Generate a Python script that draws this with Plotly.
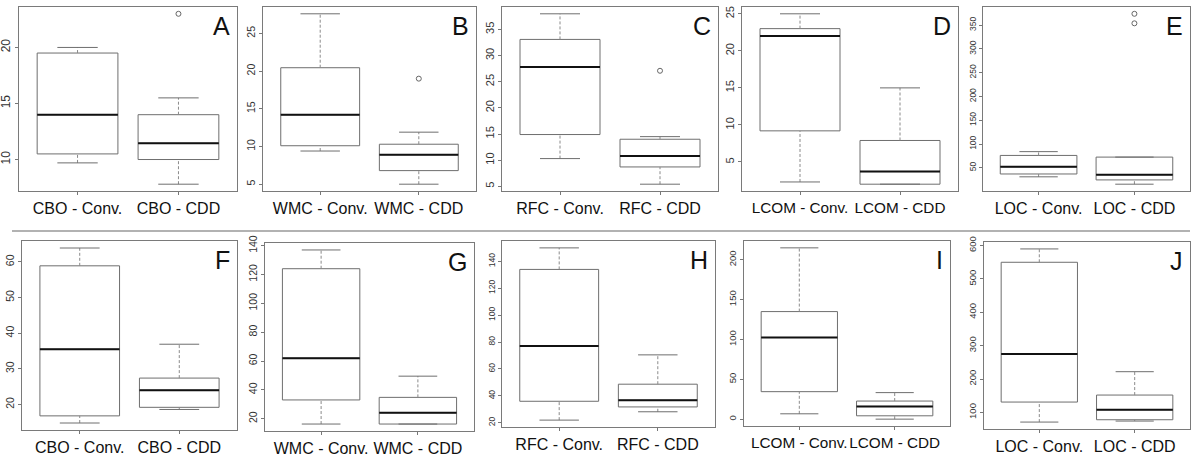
import plotly.graph_objects as go
from plotly.subplots import make_subplots

# ---------------- data ----------------
letters = ["A", "B", "C", "D", "E", "F", "G", "H", "I", "J"]
metrics = ["CBO", "WMC", "RFC", "LCOM", "LOC", "CBO", "WMC", "RFC", "LCOM", "LOC"]

conv_lo = [9.7, 9.4, 10.3, 2.3, 31, 14.8, 16.3, 22, 6.7, 71]
conv_q1 = [10.5, 10.1, 14.9, 9.2, 37, 16.8, 33, 36, 34.5, 131]
conv_med = [14.0, 14.2, 27.8, 22.0, 52, 35.5, 62, 77, 102.5, 275]
conv_q3 = [19.5, 20.45, 33.1, 23.0, 76, 58.9, 124, 134, 135, 550]
conv_hi = [20.0, 27.6, 38.0, 25.0, 84, 63.9, 137, 150, 215, 590]
conv_out = [[], [], [], [], [], [], [], [], [], []]

cdd_lo = [7.8, 5.0, 5.4, 2.0, 15.5, 18.6, 16.3, 28.2, 0, 74]
cdd_q1 = [10.0, 6.8, 8.7, 2.0, 24.5, 19.2, 16.3, 31.8, 4.2, 78]
cdd_med = [11.45, 8.9, 10.8, 3.7, 35.5, 24.0, 24.1, 36.8, 16, 108]
cdd_q3 = [14.0, 10.3, 14.0, 7.9, 72.5, 27.4, 34.8, 48.7, 22.7, 152]
cdd_hi = [15.5, 11.9, 14.5, 15.0, 72.5, 36.9, 49.5, 70.5, 33.3, 222]
cdd_out = [[23.0], [19.0], [27.1], [], [354, 374], [], [], [], [], []]

y_ticks = [
    [10, 15, 20],
    [5, 10, 15, 20, 25],
    [5, 10, 15, 20, 25, 30, 35],
    [5, 10, 15, 20, 25],
    [50, 100, 150, 200, 250, 300, 350],
    [20, 30, 40, 50, 60],
    [20, 40, 60, 80, 100, 120, 140],
    [20, 40, 60, 80, 100, 120, 140],
    [0, 50, 100, 150, 200],
    [100, 200, 300, 400, 500, 600],
]

# ---------------- layout constants (pixels) ----------------
W, H = 1192, 457
frames = [
    (19, 237, 7, 191), (263, 476, 7, 191), (502, 718, 7, 191),
    (742, 958, 7, 191), (983, 1190, 7, 191),
    (22, 237, 241, 430), (265, 474, 243, 431), (502, 715, 241, 427),
    (744, 950, 241, 426), (984, 1190, 242, 429),
]
ytick_size = [12, 10.5, 11, 11, 8.5, 10.5, 10.5, 8.5, 9.5, 9.5]
xlab_size = [16, 16, 16, 15.3, 16, 16, 16, 16, 15.3, 16]
BOXW = 0.8
CAPW = 0.4
FONT = "Arial, Liberation Sans, sans-serif"
BOXC = "#6e6e6e"

fig = make_subplots(rows=2, cols=5)

for k in range(10):
    row, col = k // 5 + 1, k % 5 + 1
    groups = [
        (1, conv_lo[k], conv_q1[k], conv_med[k], conv_q3[k], conv_hi[k], conv_out[k]),
        (2, cdd_lo[k], cdd_q1[k], cdd_med[k], cdd_q3[k], cdd_hi[k], cdd_out[k]),
    ]
    allvals = []
    for (x, lo, q1, md, q3, hi, out) in groups:
        allvals += [lo, hi] + list(out)
        # whiskers (dashed)
        fig.add_trace(go.Scatter(x=[x, x], y=[q3, hi], mode="lines",
                                 line=dict(color="#8a8a8a", width=1, dash="3px,2px"),
                                 showlegend=False, hoverinfo="skip"), row=row, col=col)
        fig.add_trace(go.Scatter(x=[x, x], y=[lo, q1], mode="lines",
                                 line=dict(color="#8a8a8a", width=1, dash="3px,2px"),
                                 showlegend=False, hoverinfo="skip"), row=row, col=col)
        # caps
        for v in (lo, hi):
            fig.add_trace(go.Scatter(x=[x - CAPW / 2, x + CAPW / 2], y=[v, v], mode="lines",
                                     line=dict(color=BOXC, width=1),
                                     showlegend=False, hoverinfo="skip"), row=row, col=col)
        # box
        fig.add_trace(go.Box(x=[x], q1=[q1], median=[md], q3=[q3],
                             lowerfence=[q1], upperfence=[q3], width=BOXW,
                             whiskerwidth=0, fillcolor="white",
                             line=dict(color=BOXC, width=1), boxpoints=False,
                             showlegend=False, hoverinfo="skip"), row=row, col=col)
        # median
        fig.add_trace(go.Scatter(x=[x - BOXW / 2, x + BOXW / 2], y=[md, md], mode="lines",
                                 line=dict(color="#111111", width=2),
                                 showlegend=False, hoverinfo="skip"), row=row, col=col)
        if out:
            fig.add_trace(go.Scatter(x=[x] * len(out), y=out, mode="markers",
                                     marker=dict(symbol="circle-open", size=5,
                                                 color="#666666", line=dict(width=1)),
                                     showlegend=False, hoverinfo="skip"), row=row, col=col)
    vmin, vmax = min(allvals), max(allvals)
    pad = 0.04 * (vmax - vmin)

    x0, x1, y0, y1 = frames[k]
    sfx = "" if k == 0 else str(k + 1)
    fig.layout["xaxis" + sfx].update(
        domain=[x0 / W, x1 / W], range=[0.42, 2.58], automargin=False,
        tickvals=[1, 2], ticktext=[metrics[k] + " - Conv.", metrics[k] + " - CDD"],
        tickangle=0,
        ticks="outside", ticklen=3, tickcolor="#777777",
        showline=True, mirror=True, linecolor="#7a7a7a", linewidth=1,
        showgrid=False, zeroline=False, ticklabelstandoff=0,
        tickfont=dict(family=FONT, size=xlab_size[k], color="#111111"),
    )
    fig.layout["yaxis" + sfx].update(
        domain=[1 - y1 / H, 1 - y0 / H], range=[vmin - pad, vmax + pad], automargin=False,
        tickvals=y_ticks[k], tickangle=-90,
        ticks="outside", ticklen=3, tickcolor="#777777",
        showline=True, mirror=True, linecolor="#7a7a7a", linewidth=1,
        showgrid=False, zeroline=False, ticklabelstandoff=0,
        tickfont=dict(family=FONT, size=ytick_size[k], color="#333333"),
    )
    fig.add_annotation(text=letters[k], xref="x" + sfx + " domain", yref="y" + sfx + " domain",
                       x=1, y=1, xanchor="right", yanchor="top", xshift=-5, yshift=-3,
                       showarrow=False, font=dict(family=FONT, size=25, color="#111111"))

fig.add_shape(type="line", xref="paper", yref="paper", x0=12 / W, x1=1190 / W,
              y0=1 - 231 / H, y1=1 - 231 / H, line=dict(color="#999999", width=1.5))

fig.update_layout(width=W, height=H, margin=dict(l=0, r=0, t=0, b=0, autoexpand=False),
                  paper_bgcolor="white", plot_bgcolor="white",
                  font=dict(family=FONT), showlegend=False)

fig.write_html("out.html", config={"displayModeBar": False},
               post_script="document.body.style.margin='0';document.body.style.padding='0';")
